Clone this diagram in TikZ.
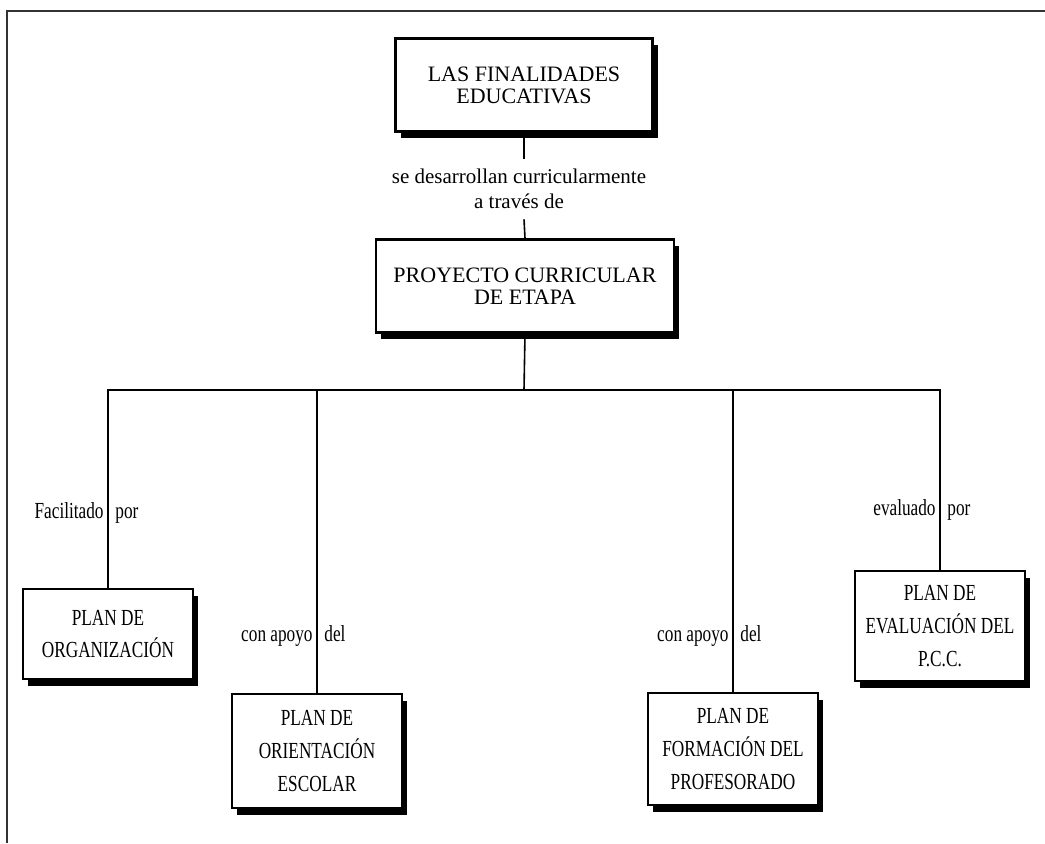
\documentclass[tikz,border=0pt]{standalone}
\usepackage{fontspec}
\setmainfont{Liberation Serif}
\newfontfamily\narrowfont{Liberation Serif}[FakeStretch=0.75]
\usetikzlibrary{shadows}
\tikzset{
  box/.style={draw, line width=1.3pt, fill=white, align=center,
    drop shadow={shadow xshift=2.6pt, shadow yshift=-3.4pt, fill=black, opacity=1}},
  headbox/.style={box, font=\fontsize{11}{11}\selectfont, minimum width=128.5pt, minimum height=46.5pt},
  planbox/.style={box, font=\narrowfont\fontsize{11.5}{16.3}\selectfont, minimum width=85pt},
  link/.style={line width=0.8pt},
  lbl/.style={inner sep=0pt, font=\narrowfont\fontsize{11.5}{13}\selectfont},
}
\newcommand{\cutlabel}[5]{\node[lbl, anchor=base east] (#1l) at (#2-4,#3) {#4};
  \node[lbl, anchor=base west] (#1r) at (#2+7,#3) {#5}}

\begin{document}
\begin{tikzpicture}[x=0.5pt, y=-0.5pt]
            \useasboundingbox (0,0) rectangle (1045,843);
            \draw[black!80, line width=0.6pt] (7,843) -- (7,11) -- (1045,11);

            \node[headbox] (fin) at (524,85) {LAS FINALIDADES\\EDUCATIVAS};
            \node[align=center, inner sep=5pt, font=\fontsize{10.5}{12.5}\selectfont]
              (via) at (519,189) {se desarrollan curricularmente\\a través de};
            \node[headbox, minimum width=149pt] (pce) at (525,286) {PROYECTO CURRICULAR\\DE ETAPA};

            \node[planbox, minimum height=45pt] (org) at (108,634) {PLAN DE\\ORGANIZACIÓN};
            \node[planbox, minimum height=57pt] (ori) at (317,751) {PLAN DE\\ORIENTACIÓN\\ESCOLAR};
            \node[planbox, minimum height=56pt] (for) at (733,749) {PLAN DE\\FORMACIÓN DEL\\PROFESORADO};
            \node[planbox, minimum height=55pt] (eva) at (940,626) {PLAN DE\\EVALUACIÓN DEL\\P.C.C.};

            \coordinate (bar) at (524,390);

            \draw[link] (fin.south) -- (fin.south |- via.north);
            \draw[link] (fin.south |- via.south) -- (pce.north);
            \draw[link] (pce.south) -- (bar);
            \draw[link] (org.north) |- (bar) -| (eva.north);
            \draw[link] (ori.north) -- (ori.north |- bar);
            \draw[link] (for.north) -- (for.north |- bar);

            \cutlabel{fac}{108}{518}{Facilitado}{por};
            \cutlabel{apo}{317}{641}{con apoyo}{del};
            \cutlabel{apt}{733}{641}{con apoyo}{del};
            \cutlabel{evl}{940}{515}{evaluado}{por};
        \end{tikzpicture}
\end{document}
